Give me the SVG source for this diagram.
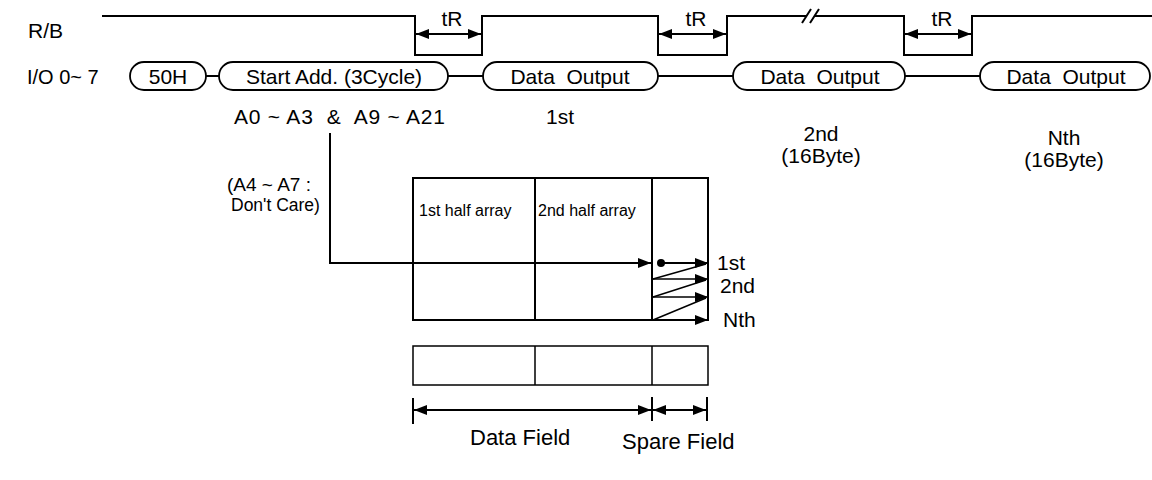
<svg xmlns="http://www.w3.org/2000/svg" width="1152" height="480" viewBox="0 0 1152 480">
<defs>
<marker id="ah" markerUnits="userSpaceOnUse" markerWidth="13" markerHeight="10" refX="13" refY="5" orient="auto-start-reverse"><path d="M0,0 L13,5 L0,10 z" fill="#000"/></marker>
</defs>
<style>
text{font-family:"Liberation Sans",Arial,sans-serif;fill:#000;white-space:pre}
.t{font-size:21px}
.m{text-anchor:middle}
.s{font-size:16px}
.ln{fill:none;stroke:#000;stroke-width:2}
.th{fill:none;stroke:#000;stroke-width:1.5}
.node rect{fill:#fff;stroke:#000;stroke-width:1.8}
</style>
<rect width="1152" height="480" fill="#fff"/>

<!-- R/B waveform -->
<text class="t" x="28" y="38">R/B</text>
<path class="ln" d="M102,16 H415 V55 H482 V16 H658 V55 H727 V16 H806 M815,16 H904 V55 H972 V16 H1152"/>
<path class="ln" d="M802,23 L811,9 M810,23 L819,9"/>
<line class="ln" x1="416" y1="34" x2="481" y2="34" marker-start="url(#ah)" marker-end="url(#ah)"/>
<line class="ln" x1="659" y1="34" x2="726" y2="34" marker-start="url(#ah)" marker-end="url(#ah)"/>
<line class="ln" x1="905" y1="34" x2="971" y2="34" marker-start="url(#ah)" marker-end="url(#ah)"/>
<text class="t m" x="452" y="26">tR</text>
<text class="t m" x="696" y="26">tR</text>
<text class="t m" x="942" y="26">tR</text>

<!-- I/O row -->
<text class="t" x="27" y="84" style="font-size:20px">I/O 0~ 7</text>
<g id="connectors">
<path class="ln" d="M206,76 H219 M448,76 H483 M658,76 H733 M905,76 H980"/>
</g>
<g id="n50H" class="node"><rect x="130" y="62" width="76" height="28" rx="14" ry="14"/><text class="t m" x="168" y="84">50H</text></g>
<g id="nStart" class="node"><rect x="219" y="62" width="229" height="28" rx="14" ry="14"/><text class="t m" x="334" y="84">Start Add. (3Cycle)</text></g>
<g id="nOut1" class="node"><rect x="483" y="62" width="175" height="28" rx="14" ry="14"/><text class="t m" x="570" y="84">Data  Output</text></g>
<g id="nOut2" class="node"><rect x="733" y="62" width="172" height="28" rx="14" ry="14"/><text class="t m" x="820" y="84">Data  Output</text></g>
<g id="nOutN" class="node"><rect x="980" y="62" width="170" height="28" rx="14" ry="14"/><text class="t m" x="1066" y="84">Data  Output</text></g>

<text class="t" x="234" y="124" textLength="211" lengthAdjust="spacing">A0 ~ A3  &amp;  A9 ~ A21</text>
<text class="t m" x="560" y="124">1st</text>
<text class="t m" x="821" y="141">2nd</text>
<text class="t m" x="821" y="163">(16Byte)</text>
<text class="t m" x="1064" y="145">Nth</text>
<text class="t m" x="1064" y="167">(16Byte)</text>
<text class="t" x="227" y="191" style="font-size:19px">(A4 ~ A7 :</text>
<text class="t" x="231" y="211" style="font-size:17.5px">Don't Care)</text>

<!-- address pointer -->
<path class="ln" d="M330,133 V263 H651" marker-end="url(#ah)"/>

<!-- array -->
<rect class="ln" x="413" y="178" width="295" height="142"/>
<path class="ln" d="M535,178 V320 M652,178 V320"/>
<text class="s" x="419" y="216">1st half array</text>
<text class="s" x="538" y="216">2nd half array</text>

<circle cx="661" cy="263" r="4" fill="#000"/>
<path class="ln" d="M661,263 H708" marker-end="url(#ah)"/>
<path class="th" d="M653,279 L706,264 M653,297 L706,280 M653,320 L706,298"/>
<path class="th" d="M653,279 H708" marker-end="url(#ah)"/>
<path class="th" d="M653,297 H708" marker-end="url(#ah)"/>
<path class="ln" d="M653,320 H708" marker-end="url(#ah)"/>
<text class="t" x="717" y="270">1st</text>
<text class="t" x="720" y="293">2nd</text>
<text class="t" x="723" y="327">Nth</text>

<!-- bottom box -->
<rect class="th" x="413" y="346" width="295" height="39"/>
<path class="th" d="M535,346 V385 M652,346 V385"/>

<!-- dimension -->
<path class="ln" d="M413,398 V424 M652,397 V421 M707,397 V421"/>
<line class="ln" x1="414" y1="410" x2="651" y2="410" marker-start="url(#ah)" marker-end="url(#ah)"/>
<line class="ln" x1="653" y1="410" x2="706" y2="410" marker-start="url(#ah)" marker-end="url(#ah)"/>
<text class="t" x="470" y="445" style="font-size:22px">Data Field</text>
<text class="t" x="622" y="449" style="font-size:22px">Spare Field</text>
</svg>
